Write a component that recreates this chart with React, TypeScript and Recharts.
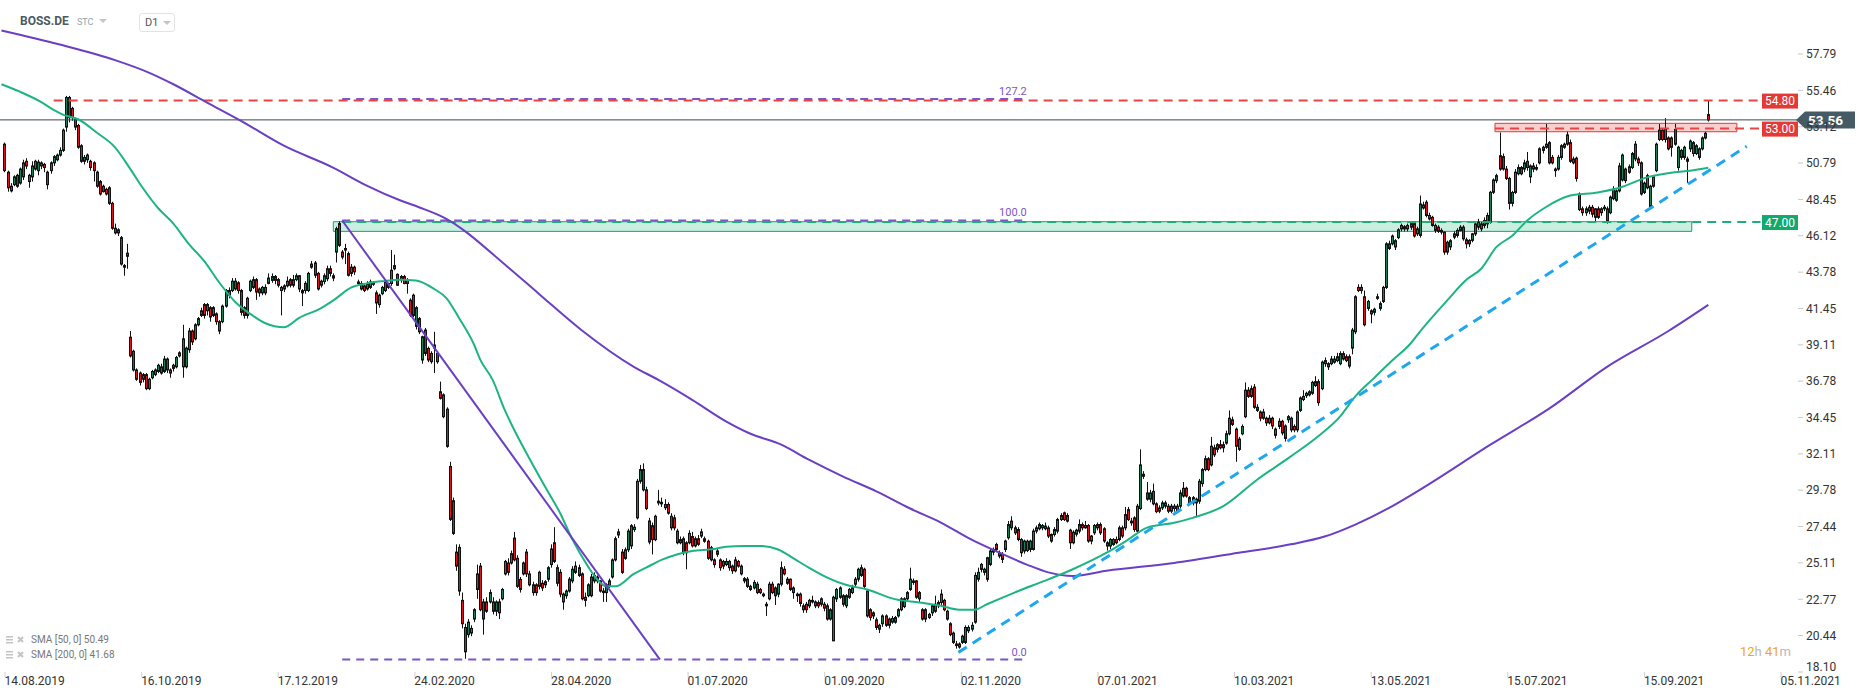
import React from "react";
import {
  ComposedChart,
  Bar,
  Line,
  XAxis,
  YAxis,
  ReferenceLine,
  ReferenceArea,
  ReferenceDot,
} from "recharts";

// candle = [open, high, low, close], one per trading day from 14.08.2019
type Candle = [number, number, number, number];

const c2019: Candle[] = [
  [52.0,52.1,50.2,50.3],[50.2,50.3,48.95,49.2],[49.3,49.5,48.9,49.0],[49.4,50.0,49.3,49.9],[50.0,50.1,49.2,49.3],
  [49.5,50.5,49.4,50.4],[49.9,51.0,49.7,50.8],[50.9,51.1,50.4,50.6],[49.6,50.1,49.2,50.0],[49.9,50.9,49.6,50.6],
  [50.4,51.0,50.3,50.9],[50.3,51.0,50.0,50.85],[50.8,50.9,50.4,50.6],[50.7,50.8,50.2,50.5],[50.2,50.3,49.1,49.4],
  [50.3,50.9,50.1,50.8],[50.8,51.3,50.6,51.2],[51.0,51.4,50.9,51.3],[51.3,51.8,51.2,51.6],[51.6,53.0,51.5,52.9],
  [53.1,55.1,52.8,55.0],[55.0,55.1,53.4,53.7],[54.3,54.4,53.5,53.7],[53.6,53.7,52.9,53.1],[53.2,53.3,51.7,51.8],
  [51.9,52.0,50.8,50.9],[50.9,51.3,50.7,51.15],[51.0,51.4,50.8,51.3],[50.9,51.0,50.3,50.5],[50.8,50.9,49.6,50.3],
  [50.2,50.3,49.2,49.3],[49.6,49.7,48.7,48.8],[49.3,49.4,48.9,48.95],[49.1,49.2,48.7,48.8],[49.2,49.3,48.1,48.2],
  [48.2,48.3,46.5,46.6],[46.6,46.9,46.2,46.3],[46.5,46.6,46.1,46.3],[46.0,46.1,44.2,44.3],[44.2,44.3,43.55,44.1],
  [45.0,45.6,44.0,44.8],[39.6,40.0,38.3,38.4],[38.7,38.8,37.4,37.5],[37.5,37.6,36.8,36.9],[37.3,37.4,36.5,36.7],
  [36.9,37.3,36.7,37.2],[37.2,37.3,36.2,36.3],[36.3,37.0,36.2,36.9],[37.0,37.5,36.9,37.4],[37.2,37.6,37.1,37.5],
  [37.4,37.9,37.3,37.8],[37.7,37.9,37.2,37.3],[37.4,38.4,37.3,38.2],[38.2,38.3,37.3,37.5],[37.5,37.6,37.0,37.3],
  [37.8,37.9,37.4,37.6],[37.7,38.4,37.6,38.3],[38.4,38.7,38.3,38.6],[37.7,40.4,37.0,39.5],[37.7,39.0,37.6,38.9],
  [38.8,40.2,38.6,40.0],[40.0,40.1,39.1,39.3],[39.5,40.5,39.4,40.4],[40.4,40.9,40.3,40.8],[41.0,41.5,40.9,41.3],
  [41.7,41.8,40.8,41.0],[41.3,41.8,41.0,41.7],[41.5,41.6,40.6,40.9],[41.0,41.6,40.9,41.5],[41.1,41.2,40.4,40.6],
  [40.6,40.7,39.8,40.0],[40.6,41.7,40.5,41.6],[41.6,42.7,41.5,42.6],[42.3,42.8,42.1,42.6],[42.6,43.4,42.5,43.2],
  [43.2,43.4,42.6,42.7],[43.1,43.2,42.4,42.6],[42.6,42.7,41.0,41.2],[41.5,41.6,40.8,41.0],[41.0,42.2,40.8,42.1],
  [42.6,43.3,42.5,43.2],[42.8,43.5,42.7,43.3],[43.3,43.4,42.0,42.5],[42.7,42.8,42.2,42.45],[42.45,42.9,42.3,42.8],
  [42.8,43.0,42.3,42.45],[43.06,43.7,43.0,43.4],[43.25,43.7,43.1,43.5],[43.5,43.6,43.0,43.25],[43.3,43.4,42.8,42.94],
  [42.6,42.9,41.0,42.8],[42.7,43.0,42.5,42.9],[42.9,43.5,42.8,43.2],[43.3,43.4,42.8,42.94],[42.94,43.6,42.8,43.3],
  [43.3,43.7,43.2,43.55],[43.55,43.6,42.5,42.7],[42.6,42.7,41.6,42.45],[42.6,43.2,42.4,43.06],[42.6,43.8,42.5,43.7],
];

const c2020a: Candle[] = [
  [44.3,44.5,44.0,44.1],[44.37,44.5,43.4,43.58],[43.7,43.8,42.6,42.7],[43.2,43.3,42.8,42.94],[43.18,43.7,43.0,43.55],
  [43.36,44.2,43.2,44.0],[44.0,44.2,43.5,43.7],[43.55,43.7,43.2,43.4],[45.07,46.7,44.4,46.57],[46.9,47.05,45.4,45.5],
  [45.07,45.2,44.6,44.75],[45.3,45.6,44.3,45.2],[44.97,45.1,43.5,43.58],[43.7,44.3,43.5,44.1],[44.1,44.2,43.6,43.8],
  [43.15,43.3,42.9,43.05],[43.05,43.2,42.6,42.7],[42.9,43.0,42.5,42.6],[42.7,43.2,42.6,43.05],[42.8,43.3,42.7,43.15],
  [43.0,43.2,42.9,43.1],[42.45,42.6,41.1,41.8],[41.7,42.4,41.5,42.3],[42.4,42.9,42.3,42.8],[42.6,43.2,42.5,43.15],
  [42.8,43.1,42.7,43.05],[43.05,45.2,42.9,43.9],[44.2,44.9,43.9,44.0],[43.64,43.7,42.9,42.94],[43.3,43.6,43.1,43.5],
  [43.5,43.6,43.0,43.05],[43.3,43.4,42.4,43.05],[41.98,42.1,40.9,41.02],[42.3,42.4,40.9,41.0],[40.3,41.6,40.1,41.5],
  [40.8,40.9,39.8,39.95],[38.14,39.7,37.9,39.63],[40.06,40.2,38.4,38.56],[38.88,39.0,38.0,38.14],[38.56,38.7,37.9,38.03],
  [38.9,39.95,37.3,39.1],[38.56,38.7,37.9,38.03],[36.1,36.75,35.6,35.68],[35.9,36.0,34.4,34.5],[34.98,35.1,32.5,32.59],
  [31.3,31.6,27.8,27.9],[29.1,29.3,26.9,27.0],[25.8,26.3,24.6,24.9],[26.1,26.3,23.0,23.3],[22.7,23.2,20.9,21.2],
  [20.96,21.2,18.95,19.4],[20.5,21.5,20.3,21.3],[20.6,21.1,20.4,20.9],[21.5,22.2,21.3,22.1],[23.4,25.0,22.8,24.4],
  [24.9,25.1,22.0,22.1],[22.6,22.8,20.5,21.5],[22.6,22.9,21.9,22.0],[22.6,23.4,22.5,23.2],[22.6,22.9,21.8,22.0],
  [22.0,22.7,21.7,22.6],[22.6,22.8,21.5,21.9],[22.8,23.5,22.7,23.4],[24.4,25.3,24.3,25.2],[25.1,25.4,24.3,24.5],
  [25.1,25.9,25.0,25.7],[26.7,27.1,25.2,25.3],[25.4,25.6,23.5,23.6],[24.05,24.2,23.2,23.4],[24.4,25.2,24.3,25.1],
  [25.8,26.0,24.2,24.4],[24.4,24.6,23.6,23.7],[23.7,23.9,23.0,23.2],[23.7,23.8,23.0,23.2],[23.6,24.6,23.4,24.5],
  [23.8,24.0,23.3,23.5],[23.7,24.0,23.5,23.9],[24.06,24.9,23.9,24.8],[25.0,26.3,24.8,26.0],[26.4,27.4,25.1,25.2],
  [24.8,25.0,23.6,23.8],[24.5,24.7,22.9,23.1],[22.6,23.2,22.1,23.1],[23.0,23.4,22.8,23.3],[24.06,24.2,23.2,23.3],
  [23.95,24.9,23.8,24.7],[24.5,25.2,24.4,24.9],[24.8,25.0,24.2,24.3],[24.4,24.5,22.7,22.8],[22.9,23.2,22.3,22.7],
  [23.0,23.8,22.9,23.7],[24.2,24.4,22.9,23.0],[23.95,24.5,23.8,24.3],[24.2,24.3,23.8,23.95],[23.95,24.0,23.2,23.3],
  [23.3,23.5,22.6,23.2],[23.2,23.8,22.6,23.7],[23.6,24.1,23.5,23.95],[24.2,25.4,24.1,25.3],[25.3,26.8,25.2,26.66],
];

const c2020b: Candle[] = [
  [26.9,27.3,26.7,27.1],[25.8,26.0,24.4,24.5],[25.4,26.1,25.3,25.95],[25.95,27.3,25.8,27.15],[26.2,27.6,26.0,27.5],
  [27.25,27.6,27.1,27.4],[28.0,30.5,27.9,30.35],[30.35,31.4,30.2,31.1],[31.1,31.5,29.7,29.8],[29.8,30.0,28.5,28.6],
  [27.8,28.0,26.3,26.45],[27.5,27.7,25.65,26.6],[26.6,28.2,26.5,28.1],[28.96,29.8,28.8,29.07],[28.9,29.3,28.7,29.0],
  [28.86,29.2,28.5,28.65],[28.86,29.0,28.2,28.3],[28.1,28.3,27.2,27.36],[28.0,28.2,27.2,27.36],[27.15,27.3,26.3,26.4],
  [26.6,26.8,26.3,26.4],[26.66,26.8,25.6,25.76],[26.4,26.5,24.7,25.76],[26.4,27.2,26.3,27.0],[26.8,27.1,26.1,26.2],
  [26.2,26.8,26.1,26.66],[26.66,26.9,26.2,26.3],[26.83,27.3,26.7,27.1],[26.66,26.8,26.4,26.5],[26.5,26.6,25.3,25.4],
  [26.08,26.2,25.2,25.3],[25.3,25.4,24.8,25.0],[25.87,26.0,25.5,25.66],[25.3,25.4,24.6,24.8],[25.2,25.3,24.7,24.9],
  [25.0,25.4,24.9,25.2],[25.2,25.3,24.6,24.8],[24.9,25.0,24.4,24.6],[24.6,25.5,24.5,25.3],[25.2,25.3,24.8,24.9],
  [24.9,25.0,24.3,24.4],[24.1,24.2,23.8,23.95],[24.06,24.2,23.5,23.6],[23.6,23.7,23.3,23.4],[23.5,24.0,23.4,23.85],
  [23.74,23.9,23.1,23.2],[23.4,23.5,23.1,23.2],[23.1,23.2,22.9,23.0],[22.45,22.6,21.7,22.35],[22.8,23.9,22.7,23.74],
  [23.74,23.9,23.1,23.2],[23.5,23.6,22.4,23.0],[23.1,23.8,22.9,23.74],[23.74,25.2,23.6,24.8],[24.7,24.9,24.3,24.4],
  [24.06,24.2,23.7,23.8],[24.06,24.1,23.3,23.4],[23.5,23.6,22.8,23.2],[23.1,23.2,22.6,23.0],[23.1,23.2,22.3,22.5],
  [22.35,22.5,21.9,22.1],[22.45,22.6,21.9,22.1],[22.35,22.8,22.2,22.7],[22.7,23.0,22.5,22.6],[22.6,22.7,22.2,22.35],
  [22.56,22.7,22.2,22.35],[22.8,22.9,22.3,22.45],[22.45,22.6,22.0,22.2],[22.35,22.5,21.4,21.5],[21.5,22.2,21.4,22.1],
  [20.1,23.0,20.1,22.9],[22.8,23.5,22.6,23.4],[22.9,23.6,22.8,23.5],[23.0,23.1,22.3,22.45],[22.35,23.1,22.2,23.0],
  [22.9,23.5,22.8,23.4],[23.2,23.7,23.1,23.5],[23.74,24.2,23.6,24.06],[24.06,24.8,23.9,24.7],[24.3,25.0,24.2,24.8],
  [24.7,24.8,23.5,23.6],[23.3,23.4,21.6,21.7],[22.1,22.2,21.4,21.6],[21.9,22.0,21.5,21.7],[21.45,21.6,20.8,20.96],
  [21.1,21.2,20.6,20.85],[21.2,21.8,21.0,21.7],[21.7,21.8,21.0,21.1],[21.1,21.6,20.9,21.5],[21.3,21.7,21.2,21.54],
  [21.6,21.7,21.2,21.3],[21.7,22.2,21.6,22.1],[22.1,22.9,22.0,22.8],[22.3,22.9,22.2,22.8],[22.8,23.3,22.7,23.2],
  [23.4,24.8,23.3,24.06],[23.95,24.1,23.7,23.85],[23.95,24.0,22.8,22.9],[23.2,23.3,22.6,22.8],[22.1,22.2,21.4,21.5],
  [22.1,22.2,21.3,21.5],[21.8,21.9,21.5,21.6],[21.9,22.4,21.7,22.35],[22.0,23.0,21.9,22.45],[22.56,22.7,22.2,22.35],
  [22.56,23.4,22.4,23.1],[22.7,22.8,22.0,22.1],[22.0,22.1,21.4,21.5],[21.2,21.3,20.4,20.5],[20.6,20.7,19.9,20.0],
  [19.9,20.1,19.6,19.8],[19.9,20.0,19.6,19.7],[20.0,20.5,19.9,20.4],[20.0,21.1,19.9,20.96],[20.75,21.1,20.6,20.96],
  [20.85,21.3,20.7,21.1],[21.3,24.5,21.2,24.3],[24.06,24.8,23.9,24.5],
];

const c2021a: Candle[] = [
  [24.69,25.1,24.5,25.01],[24.5,24.8,24.3,24.7],[24.05,25.5,23.9,25.44],[25.01,26.0,24.9,25.87],[25.8,26.1,25.6,25.97],
  [26.29,26.4,25.8,25.97],[25.76,25.9,25.4,25.55],[25.65,25.8,25.1,25.33],[25.97,26.6,25.8,26.51],[26.72,27.8,26.6,27.57],
  [27.79,28.1,27.2,27.36],[27.36,27.5,26.9,27.04],[27.25,27.4,26.5,26.61],[26.61,26.7,25.5,25.76],[25.87,26.6,25.7,26.51],
  [25.9,26.6,25.8,26.5],[25.97,26.6,25.8,26.51],[25.97,27.3,25.9,27.15],[27.15,27.5,27.0,27.36],[27.3,27.7,27.2,27.57],
  [27.36,27.6,27.2,27.51],[27.47,27.7,27.2,27.3],[27.36,27.5,26.7,26.83],[26.93,27.0,26.4,26.51],[26.93,27.4,26.8,27.25],
  [27.15,28.0,27.0,27.89],[27.89,28.3,27.8,28.15],[28.32,28.4,27.8,27.89],[28.15,28.3,27.7,27.79],[27.21,27.3,26.0,26.4],
  [26.4,27.2,26.3,27.08],[26.95,27.3,26.8,27.21],[27.57,27.9,27.0,27.15],[27.57,27.7,27.2,27.36],[27.51,27.8,27.3,27.36],
  [27.51,27.6,26.4,26.51],[26.51,26.9,26.3,26.83],[27.04,27.6,26.9,27.51],[27.57,27.7,27.2,27.36],[27.57,27.7,26.9,27.04],
  [27.3,27.4,26.4,26.51],[26.4,26.5,25.9,26.19],[26.19,26.7,26.0,26.61],[26.29,26.7,26.2,26.61],[26.61,26.8,26.3,26.4],
  [26.61,27.5,26.5,27.36],[27.36,27.5,26.7,26.83],[27.36,28.7,27.2,28.21],[28.53,28.7,27.8,27.89],[27.79,28.0,27.5,27.68],
  [28.0,28.1,27.1,27.25],[27.15,28.9,27.0,28.75],[28.6,32.4,28.5,31.4],[30.8,31.0,30.5,30.67],[29.6,30.3,29.1,29.2],
  [29.2,29.8,29.0,29.6],[29.7,30.2,28.8,28.9],[28.9,29.0,28.3,28.4],[28.43,28.8,28.3,28.64],[28.64,29.1,28.5,28.96],
  [28.75,29.1,28.6,28.96],[28.75,28.9,28.3,28.43],[28.75,28.9,28.3,28.43],[28.6,28.9,28.4,28.75],[28.43,28.9,28.3,28.75],
  [28.75,29.8,28.6,29.6],[29.4,30.3,29.3,29.9],[29.9,30.0,29.3,29.4],[29.3,29.4,28.8,28.96],[29.3,29.4,28.8,28.96],
  [28.96,29.3,28.1,29.2],[29.07,30.5,28.9,30.35],[30.2,31.2,30.0,31.1],[31.1,32.0,31.0,31.8],[31.8,31.9,31.0,31.1],
  [31.4,33.2,31.3,32.6],[32.5,32.7,31.9,32.05],[32.4,32.8,32.2,32.7],[32.7,33.0,32.4,32.5],[32.7,32.9,32.2,32.5],
  [32.8,33.6,32.7,33.4],[33.4,34.9,33.3,34.4],[34.3,34.5,33.9,34.0],[33.7,33.8,31.6,32.6],[32.4,33.2,32.3,33.06],
  [33.4,34.0,33.3,33.87],[34.5,36.7,34.4,36.2],[36.2,36.4,35.7,35.8],[35.8,36.5,35.7,36.3],[36.4,36.6,35.0,35.1],
  [35.1,35.3,34.8,34.9],[34.8,34.9,34.2,34.4],[34.4,35.0,34.3,34.8],[34.4,34.5,33.9,34.1],[34.1,34.6,34.0,34.4],
  [34.4,34.5,33.7,33.9],[33.7,33.8,33.1,33.3],[33.87,34.4,33.7,34.2],[34.2,34.3,33.3,33.45],[33.9,34.0,32.9,33.1],
  [34.3,34.6,34.1,34.5],[34.4,34.5,33.5,33.65],[33.87,34.0,33.5,33.65],[33.65,34.9,33.5,34.8],[34.9,35.8,34.8,35.7],
  [35.6,36.2,35.5,35.8],[35.85,36.1,35.7,36.0],[35.9,36.2,35.8,36.1],[36.0,36.8,35.9,36.7],[36.75,37.1,36.4,36.5],
  [36.75,36.9,35.2,35.4],[36.3,38.1,36.2,38.0],[37.9,38.3,37.7,38.1],[37.9,38.0,37.5,37.7],[38.2,38.4,37.8,37.9],
  [38.0,38.4,37.9,38.2],[38.1,38.6,38.0,38.35],[37.9,38.7,37.8,38.55],[38.55,38.7,38.1,38.2],[38.35,38.5,38.0,38.1],
  [38.35,38.5,37.6,37.75],[38.9,40.2,38.5,40.06],[39.95,42.3,39.8,42.2],[42.8,43.0,42.5,42.6],[42.8,43.0,42.4,42.6],
  [42.2,42.6,40.3,40.4],[41.45,42.0,41.3,41.9],[41.1,41.4,40.5,41.3],[41.2,41.5,41.0,41.4],[42.1,42.4,42.0,42.2],
  [41.45,41.9,41.3,41.76],[41.9,42.9,41.8,42.8],[42.8,45.7,42.7,45.6],
];

const c2021b: Candle[] = [
  [45.6,45.8,45.2,45.3],[45.6,46.2,45.5,46.1],[45.4,45.9,45.2,45.8],[46.0,46.6,45.9,46.5],[46.56,46.9,46.4,46.78],
  [46.56,46.8,46.4,46.7],[46.56,46.9,46.4,46.78],[46.67,47.0,46.5,46.9],[46.9,47.0,46.0,46.1],[46.24,46.7,46.1,46.56],
  [46.14,48.7,46.0,48.16],[47.9,48.3,47.8,48.1],[48.27,48.4,47.3,47.42],[47.42,47.6,47.1,47.2],[47.3,47.4,46.7,46.78],
  [46.46,46.9,46.3,46.78],[46.67,46.8,46.3,46.4],[46.46,46.6,46.2,46.35],[46.35,46.4,44.9,45.07],[45.7,45.8,44.9,45.07],
  [45.4,45.9,45.2,45.8],[46.03,46.4,45.9,46.24],[46.14,46.6,46.0,46.46],[46.46,46.8,46.4,46.67],[46.67,46.8,45.8,45.92],
  [45.86,46.0,45.3,45.6],[45.82,45.9,45.4,45.6],[45.82,46.3,45.7,46.24],[46.24,47.0,46.1,46.88],[46.67,47.2,46.5,46.99],
  [46.88,47.0,46.4,46.56],[46.78,47.3,46.6,47.1],[46.88,47.6,46.6,47.42],[46.99,49.0,46.9,48.91],[48.91,49.8,48.8,49.7],
  [49.66,50.1,49.5,49.98],[51.26,52.75,50.3,50.4],[51.2,51.4,50.3,50.4],[50.4,50.6,49.7,49.8],[49.8,49.9,47.8,48.2],
  [48.2,49.0,48.0,48.9],[48.9,50.4,48.8,50.2],[50.1,50.7,50.0,50.5],[50.5,50.6,50.0,50.1],[50.4,51.0,50.2,50.8],
  [50.9,51.5,50.3,50.5],[49.9,50.7,49.5,50.6],[50.4,50.8,50.2,50.6],[50.5,50.7,50.3,50.4],[50.8,51.8,50.7,51.7],
  [51.6,51.9,51.4,51.8],[51.8,53.3,51.7,52.0],[52.1,52.2,50.7,50.8],[51.15,51.3,50.7,50.8],[50.3,50.5,49.9,50.4],
  [50.4,51.3,50.3,51.15],[51.15,52.0,51.0,51.9],[51.8,52.1,51.7,52.0],[52.0,52.8,51.9,52.6],[52.1,52.3,50.8,50.9],
  [51.05,51.2,50.7,50.8],[51.1,51.2,49.6,49.8],[48.8,48.9,47.7,47.8],[47.85,48.0,47.4,47.6],[47.6,48.0,47.4,47.85],
  [47.7,48.1,47.5,47.95],[47.95,48.1,47.3,47.5],[47.3,47.9,47.0,47.85],[47.85,48.0,47.2,47.3],[47.6,47.95,47.4,47.85],
  [47.85,48.1,47.7,47.95],[47.85,48.0,46.9,47.05],[47.6,48.7,47.5,48.6],[49.1,49.3,48.4,48.5],[48.4,49.1,48.3,49.0],
  [49.0,50.8,48.9,50.6],[49.7,51.4,49.6,51.3],[50.4,50.5,49.5,49.66],[50.2,50.7,50.1,50.55],[50.5,51.5,50.4,51.4],
  [52.0,52.2,50.9,51.05],[51.05,51.2,50.6,50.8],[50.8,50.9,48.7,48.8],[48.9,49.6,48.8,49.5],[49.2,50.1,49.1,49.98],
  [48.0,49.4,47.9,49.3],[49.3,50.0,49.2,49.9],[50.3,52.1,50.2,52.0],[52.3,53.3,52.2,52.9],[52.9,53.0,52.2,52.3],
  [52.3,53.67,52.1,52.95],[52.4,52.5,51.6,51.7],[51.8,52.5,51.2,52.4],[52.95,53.3,51.9,52.0],[50.5,51.9,50.3,51.8],
  [51.6,51.7,51.0,51.15],[51.15,51.9,51.0,51.8],[51.05,51.2,49.5,50.9],[51.7,52.3,51.5,52.2],[51.4,52.2,51.2,52.1],
  [51.4,52.0,51.3,51.9],[51.15,51.8,51.0,51.7],[51.7,52.5,51.6,52.4],[52.7,52.8,52.3,52.4],[53.9,54.8,53.45,53.56],
];

// moving averages at sample bars: [bar index, value]
const sma50Pts: [number, number][] = [
  [-1,55.85],[5,55.37],[12,54.7],[16,54.2],[19,53.9],[24,53.6],[30,52.75],[36,51.8],[41,50.4],[45,49.2],
  [50,47.9],[55,46.9],[60,45.6],[65,44.5],[70,43.1],[75,41.9],[81,40.97],[85,40.5],[91,40.24],[96,40.85],
  [103,41.46],[107,41.95],[113,42.8],[118,43.06],[123,43.2],[129,43.3],[134,43.25],[140,42.7],[144,42.1],[148,40.85],
  [153,39.1],[155,38.15],[159,36.86],[163,34.9],[166,33.66],[170,32.17],[176,30.03],[181,28.3],[185,26.6],[190,24.9],
  [193,24.06],[196,23.6],[199,23.6],[205,24.4],[209,24.8],[214,25.3],[219,25.65],[224,25.87],[231,26.0],[235,26.15],
  [241,26.2],[246,26.2],[252,25.97],[257,25.4],[262,24.8],[268,24.16],[274,23.7],[281,23.4],[290,22.78],[298,22.56],
  [305,22.35],[311,22.1],[316,22.1],[320,22.45],[329,23.2],[340,24.05],[348,24.7],[359,25.76],[366,26.6],[372,27.36],
  [381,27.68],[387,28.0],[397,28.75],[408,30.45],[419,31.95],[427,33.1],[435,34.5],[440,35.8],[446,36.96],[452,38.1],
  [458,39.2],[461,39.95],[470,41.98],[476,43.26],[481,44.0],[486,45.4],[491,46.1],[496,47.1],[502,47.95],[510,48.7],
  [519,48.9],[526,49.2],[535,49.87],[544,50.2],[549,50.3],[555,50.49],
];

const sma200Pts: [number, number][] = [
  [-1,59.3],[18,58.4],[36,57.4],[47,56.6],[55,55.85],[66,54.67],[77,53.5],[91,51.9],[107,50.5],[118,49.34],
  [129,48.38],[135,47.95],[143,47.3],[164,44.1],[174,42.4],[188,40.05],[205,37.7],[213,36.86],[224,35.58],[235,34.2],
  [243,33.4],[253,32.7],[262,31.74],[273,30.67],[284,29.7],[295,28.6],[305,27.7],[315,26.6],[323,25.86],[333,25.0],
  [340,24.5],[348,24.27],[359,24.6],[381,25.1],[402,25.76],[419,26.3],[430,26.8],[440,27.57],[451,28.64],[461,29.8],
  [484,32.7],[503,35.0],[522,37.7],[542,40.0],[555,41.68],
];

const dateLabels = [
  "14.08.2019", "16.10.2019", "17.12.2019", "24.02.2020", "28.04.2020", "01.07.2020", "01.09.2020",
  "02.11.2020", "07.01.2021", "10.03.2021", "13.05.2021", "15.07.2021", "15.09.2021", "05.11.2021",
];
const dateTickIdx = [0, 44.5, 89, 133.5, 178, 222.5, 267, 311.5, 356, 400.5, 445, 489.5, 534, 578.5];

const priceTicks = [
  18.1, 20.44, 22.77, 25.11, 27.44, 29.78, 32.11, 34.45, 36.78, 39.11, 41.45, 43.78, 46.12, 48.45, 50.79, 53.12,
  55.46, 57.79,
];

// drawn levels
const resistTop = 54.8;
const resistZone = 53.0;
const supportZone = 47.0;
const fibStart = { i: 110, v: 47.1 };
const fibEnd = { i: 213.5, v: 18.9 };
const fibRight = 332;
const fib1272 = 54.9;
const trendFrom = { i: 310.7, v: 19.36 };
const trendTo = { i: 567.5, v: 51.86 };

const candles = [...c2019, ...c2020a, ...c2020b, ...c2021a, ...c2021b];
const lastClose = candles[candles.length - 1][3];
const sma50Map = new Map(sma50Pts);
const sma200Map = new Map(sma200Pts);

const rows: any[] = [];
for (let i = -1; i < candles.length; i++) {
  const k = i >= 0 ? candles[i] : undefined;
  rows.push({
    i,
    range: k ? [k[2], k[1]] : undefined,
    o: k ? k[0] : undefined,
    h: k ? k[1] : undefined,
    l: k ? k[2] : undefined,
    c: k ? k[3] : undefined,
    sma50: sma50Map.get(i),
    sma200: sma200Map.get(i),
  });
}

const UP = "#138257";
const DOWN = "#d9141c";
const PURPLE = "#6a3fc3";
const FIB = "#7d55c7";

const CandleShape = (props: any) => {
  const { x, y, width, height, payload } = props;
  if (!payload || payload.o == null) return null;
  const { o, h, l, c } = payload;
  const top = Math.min(y, y + height);
  const hgt = Math.abs(height);
  const k = h - l > 0 ? hgt / (h - l) : 0;
  const cx = Math.round(x + width / 2) + 0.5;
  const yO = top + (h - o) * k;
  const yC = top + (h - c) * k;
  const bTop = Math.min(yO, yC);
  const bH = Math.max(Math.abs(yC - yO), 1);
  return (
    <g>
      <line x1={cx} x2={cx} y1={top} y2={top + hgt} stroke="#111" strokeWidth={1} />
      <rect x={cx - 1} y={bTop} width={2} height={bH} fill={c >= o ? UP : DOWN} stroke="#111" strokeWidth={1} />
    </g>
  );
};

const DateTick = (props: any) => {
  const { x, y, payload } = props;
  const label = dateLabels[dateTickIdx.indexOf(payload.value)];
  return (
    <g>
      <line x1={x + 0.5} x2={x + 0.5} y1={y} y2={y + 5} stroke="#cfcfcf" />
      <text x={x} y={y + 13} fontSize={12} fill="#333" textAnchor="start" fontFamily="Roboto, sans-serif">
        {label}
      </text>
    </g>
  );
};

// the lowest price label sits a little higher, clear of the date row
const PriceTick = (props: any) => {
  const { x, y, payload } = props;
  const lift = payload.value === priceTicks[0] ? -5 : 0;
  return (
    <text x={x} y={y + lift} dy="0.355em" fontSize={12} fill="#333" textAnchor="start" fontFamily="Roboto, sans-serif">
      {payload.value.toFixed(2)}
    </text>
  );
};

const tagShape = (text: string, fill: string) => (p: any) => (
  <g>
    <rect x={1762} y={p.cy - 7} width={36} height={15} fill={fill} />
    <text x={1780} y={p.cy + 4.5} textAnchor="middle" fontSize={12} fill="#fff" fontFamily="Roboto, sans-serif">
      {text}
    </text>
  </g>
);

const lastShape = (p: any) => {
  const y = p.cy;
  return (
    <g>
      <path d={`M1796,${y} L1805,${y - 8.5} L1855,${y - 8.5} L1855,${y + 8.5} L1805,${y + 8.5} Z`} fill="#455a64" />
      <text x={1808} y={y + 5} fontSize={13.5} fontWeight="bold" fill="#fff" fontFamily="Roboto, sans-serif">
        {lastClose.toFixed(2)}
      </text>
    </g>
  );
};

const fibLabel = (text: string) => (p: any) => (
  <text x={p.cx + 3} y={p.cy - 4} textAnchor="end" fontSize={11} fill={FIB} fontFamily="Roboto, sans-serif">
    {text}
  </text>
);

const LegendIcon = () => (
  <svg width={24} height={10} style={{ verticalAlign: "middle", marginRight: 2 }}>
    <rect x={1} y={1} width={7} height={1.5} fill="#c4c4c4" />
    <rect x={1} y={4} width={7} height={1.5} fill="#c4c4c4" />
    <rect x={1} y={7} width={7} height={1.5} fill="#c4c4c4" />
    <path d="M13,2 L18,7 M18,2 L13,7" stroke="#c4c4c4" strokeWidth={2} />
  </svg>
);

export default function App() {
  return (
    <div
      style={{
        position: "absolute",
        left: 0,
        top: 0,
        width: 1866,
        height: 698,
        background: "#fff",
        fontFamily: "Roboto, sans-serif",
        overflow: "hidden",
      }}
    >
      <ComposedChart width={1866} height={698} data={rows} margin={{ top: 0, right: 0, bottom: 0, left: 0 }}>
        <XAxis
          dataKey="i"
          type="number"
          domain={[-1.47, 584.2]}
          allowDataOverflow
          ticks={dateTickIdx}
          interval={0}
          tick={<DateTick />}
          tickLine={false}
          axisLine={false}
          tickSize={0}
          tickMargin={0}
          height={26}
        />
        <YAxis
          orientation="right"
          type="number"
          domain={[18.1, 61.26]}
          allowDataOverflow
          ticks={priceTicks}
          interval={0}
          width={68}
          axisLine={false}
          tickLine={{ stroke: "#c8c8c8" }}
          tickSize={5}
          tickMargin={3}
          tick={<PriceTick />}
        />

        <ReferenceArea x1={107.1} x2={549.6} y1={46.4} y2={47.02} fill="#2bbf86" fillOpacity={0.25} stroke="#17a36b" strokeWidth={1} />
        <ReferenceArea x1={485.5} x2={564.3} y1={52.8} y2={53.34} fill="#f25c5c" fillOpacity={0.3} stroke="#e53935" strokeWidth={1} />

        <ReferenceLine segment={[{ x: fibStart.i, y: fib1272 }, { x: fibRight, y: fib1272 }]} stroke={FIB} strokeWidth={2} strokeDasharray="8 6" />
        <ReferenceLine segment={[{ x: fibStart.i, y: fibStart.v }, { x: fibRight, y: fibStart.v }]} stroke={FIB} strokeWidth={2} strokeDasharray="8 6" />
        <ReferenceLine segment={[{ x: fibStart.i, y: fibEnd.v }, { x: fibRight, y: fibEnd.v }]} stroke={FIB} strokeWidth={2} strokeDasharray="8 6" />

        <ReferenceLine y={lastClose} stroke="#37474f" strokeWidth={1} />
        <ReferenceLine segment={[{ x: 16, y: resistTop }, { x: 572, y: resistTop }]} stroke="#e84444" strokeWidth={2} strokeDasharray="9 6" />
        <ReferenceLine segment={[{ x: 485.5, y: resistZone }, { x: 572, y: resistZone }]} stroke="#e84444" strokeWidth={2} strokeDasharray="9 6" />
        <ReferenceLine segment={[{ x: fibStart.i, y: supportZone }, { x: 572, y: supportZone }]} stroke="#1fae77" strokeWidth={2} strokeDasharray="9 6" />

        <Bar dataKey="range" barSize={3} shape={CandleShape} isAnimationActive={false} />

        <Line dataKey="sma200" type="monotone" stroke={PURPLE} strokeWidth={2} dot={false} activeDot={false} connectNulls isAnimationActive={false} />
        <Line dataKey="sma50" type="monotone" stroke="#1db483" strokeWidth={2} dot={false} activeDot={false} connectNulls isAnimationActive={false} />

        <ReferenceLine segment={[{ x: fibStart.i, y: fibStart.v }, { x: fibEnd.i, y: fibEnd.v }]} stroke={PURPLE} strokeWidth={2} />
        <ReferenceLine segment={[{ x: trendFrom.i, y: trendFrom.v }, { x: trendTo.i, y: trendTo.v }]} stroke="#1ea7ef" strokeWidth={3} strokeDasharray="10 7" />

        <ReferenceDot x={fibRight} y={fib1272} r={1} shape={fibLabel("127.2")} />
        <ReferenceDot x={fibRight} y={fibStart.v} r={1} shape={fibLabel("100.0")} />
        <ReferenceDot x={fibRight} y={fibEnd.v} r={1} shape={fibLabel("0.0")} />

        <ReferenceDot x={570} y={resistTop} r={1} shape={tagShape(resistTop.toFixed(2), "#e53935")} />
        <ReferenceDot x={570} y={resistZone} r={1} shape={tagShape(resistZone.toFixed(2), "#e53935")} />
        <ReferenceDot x={570} y={supportZone} r={1} shape={tagShape(supportZone.toFixed(2), "#12a96c")} />
        <ReferenceDot x={580} y={lastClose} r={1} shape={lastShape} />
      </ComposedChart>

      <div style={{ position: "absolute", left: 20, top: 14, fontSize: 12, fontWeight: "bold", color: "#4b5a63" }}>BOSS.DE</div>
      <div style={{ position: "absolute", left: 77, top: 17, fontSize: 9, color: "#90a4ae" }}>STC</div>
      <svg style={{ position: "absolute", left: 99, top: 19 }} width={9} height={5}>
        <path d="M0,0 L8,0 L4,4 Z" fill="#c5c5c5" />
      </svg>
      <div
        style={{
          position: "absolute",
          left: 139,
          top: 13,
          width: 34,
          height: 17,
          border: "1px solid #e3e3e3",
          borderRadius: 3,
        }}
      >
        <span style={{ position: "absolute", left: 5, top: 2, fontSize: 11, color: "#555" }}>D1</span>
        <svg style={{ position: "absolute", left: 23, top: 7 }} width={9} height={5}>
          <path d="M0,0 L8,0 L4,4 Z" fill="#c5c5c5" />
        </svg>
      </div>

      <div style={{ position: "absolute", left: 5, top: 633, fontSize: 10, color: "#777", lineHeight: "14.5px" }}>
        <div>
          <LegendIcon />
          SMA [50, 0] {sma50Pts[sma50Pts.length - 1][1].toFixed(2)}
        </div>
        <div>
          <LegendIcon />
          SMA [200, 0] {sma200Pts[sma200Pts.length - 1][1].toFixed(2)}
        </div>
      </div>

      <div style={{ position: "absolute", right: 75, top: 644, fontSize: 13, whiteSpace: "nowrap" }}>
        <span style={{ color: "#f5a31a" }}>12</span>
        <span style={{ color: "#b8b8b8" }}>h </span>
        <span style={{ color: "#f5a31a" }}>41</span>
        <span style={{ color: "#b8b8b8" }}>m</span>
      </div>
    </div>
  );
}
